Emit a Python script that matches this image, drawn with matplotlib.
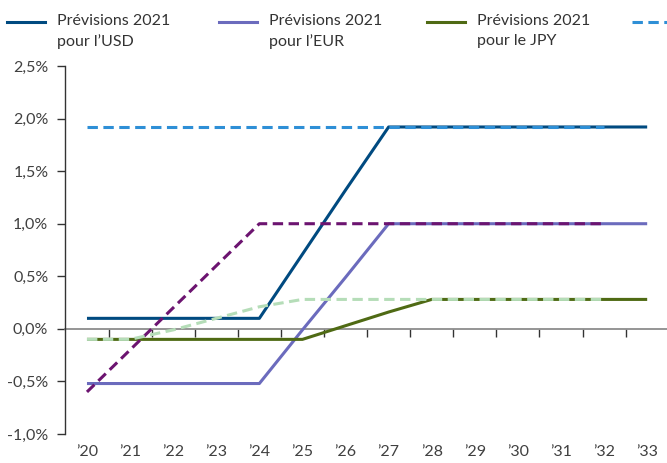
import matplotlib
matplotlib.use("Agg")
import matplotlib.pyplot as plt
from matplotlib.lines import Line2D

# data (percent)
years = ["’20", "’21", "’22", "’23", "’24", "’25", "’26",
         "’27", "’28", "’29", "’30", "’31", "’32", "’33"]
usd_2021 = [0.10, 0.10, 0.10, 0.10, 0.10, 0.71, 1.32, 1.92, 1.92, 1.92, 1.92, 1.92, 1.92, 1.92]
eur_2021 = [-0.52, -0.52, -0.52, -0.52, -0.52, -0.01, 0.49, 1.00, 1.00, 1.00, 1.00, 1.00, 1.00, 1.00]
jpy_2021 = [-0.10, -0.10, -0.10, -0.10, -0.10, -0.10, 0.03, 0.16, 0.28, 0.28, 0.28, 0.28, 0.28, 0.28]
usd_2020 = [1.92, 1.92, 1.92, 1.92, 1.92, 1.92, 1.92, 1.92, 1.92, 1.92, 1.92, 1.92, 1.92]
eur_2020 = [-0.60, -0.20, 0.20, 0.60, 1.00, 1.00, 1.00, 1.00, 1.00, 1.00, 1.00, 1.00, 1.00]
jpy_2020 = [-0.10, -0.10, -0.01, 0.10, 0.21, 0.28, 0.28, 0.28, 0.28, 0.28, 0.28, 0.28, 0.28]

y_ticks = [-1.0, -0.5, 0.0, 0.5, 1.0, 1.5, 2.0, 2.5]
y_labels = ["-1,0%", "-0,5%", "0,0%", "0,5%", "1,0%", "1,5%", "2,0%", "2,5%"]

solid_series = [
    (usd_2021, "#004a80", "Prévisions 2021\npour l’USD"),
    (eur_2021, "#6b6bbd", "Prévisions 2021\npour l’EUR"),
    (jpy_2021, "#4f6a14", "Prévisions 2021\npour le JPY"),
]
dashed_series = [
    (usd_2020, "#2e8fd6", ""),  # label falls outside the visible frame
    (eur_2020, "#6c1470", ""),
    (jpy_2020, "#b5ddb8", ""),
]

plt.rcParams['font.family'] = ['Lato', 'DejaVu Sans']

W, H = 667, 463
fig = plt.figure(figsize=(W / 100, H / 100), dpi=100)
ax = fig.add_axes([65 / W, 1 - 434 / H, 602 / W, 368 / H])

dash = (0, (3.4, 1.8))
for values, color, label in solid_series:
    ax.plot(range(len(values)), values, color=color, lw=2.2, zorder=3,
            solid_capstyle='butt')
for values, color, label in dashed_series:
    ax.plot(range(len(values)), values, color=color, lw=2.2, zorder=4,
            linestyle=dash)

ax.set_xlim(-0.51, 13.46)
ax.set_ylim(-1.0, 2.5)

# spines: left axis + zero line carrying the year separators
for side in ['top', 'right']:
    ax.spines[side].set_visible(False)
ax.spines['left'].set_color('#333333')
ax.spines['left'].set_linewidth(1.0)
ax.spines['bottom'].set_position(('data', 0))
ax.spines['bottom'].set_color('#8c8c8c')
ax.spines['bottom'].set_linewidth(1.3)
ax.spines['bottom'].set_zorder(2)

ax.set_xticks([i + 0.5 for i in range(len(years) - 1)])
ax.set_xticklabels([])
ax.tick_params(axis='x', direction='out', length=6, width=1.0, color='#333333')

ax.set_yticks(y_ticks)
ax.set_yticklabels(y_labels)
ax.tick_params(axis='y', direction='out', length=6, width=1.0, color='#333333',
               labelsize=11.5, labelcolor='#404040', pad=6)

# year labels along the bottom
sec = ax.secondary_xaxis('bottom')
sec.set_xticks(range(len(years)))
sec.set_xticklabels(years)
sec.spines['bottom'].set_visible(False)
sec.tick_params(axis='x', length=0, labelsize=11.5, labelcolor='#404040', pad=8)

# legend row across the top (runs off the right edge like the original)
legend_x = [7, 219, 427, 632]
for (values, color, label), x0 in zip(solid_series + dashed_series[:1], legend_x):
    ls = '-' if values is not usd_2020 else dash
    fig.add_artist(Line2D([x0 / W, (x0 + 38) / W], [1 - 22 / H, 1 - 22 / H],
                          color=color, lw=2.2, linestyle=ls,
                          transform=fig.transFigure))
    if label:
        fig.text((x0 + 50) / W, 1 - 14 / H, label, ha='left', va='top',
                 fontsize=11.5, color='#333333', linespacing=1.55)

fig.savefig("out.png", dpi=100)
